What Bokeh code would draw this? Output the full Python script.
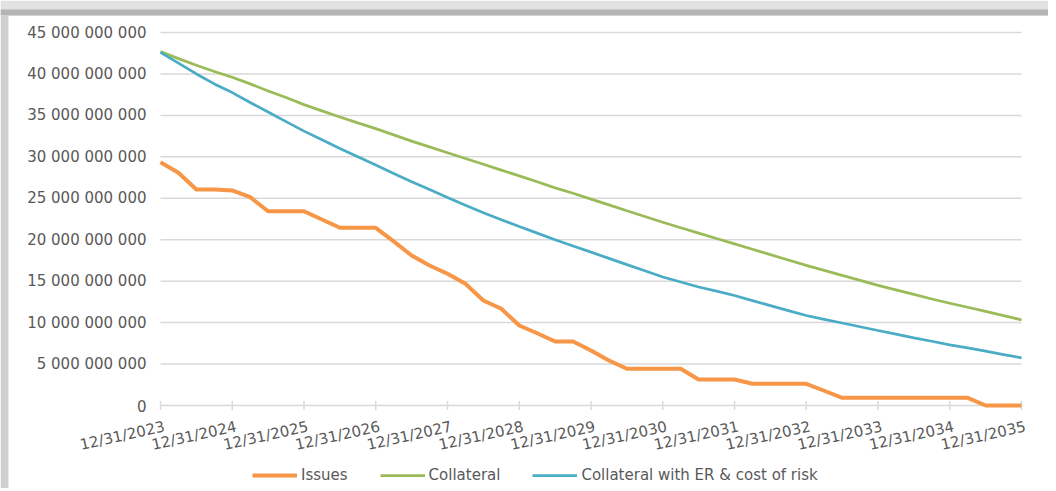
import math
from bokeh.plotting import figure
from bokeh.models import Range1d, Legend, LegendItem, BoxAnnotation
from bokeh.core.properties import value
from bokeh.embed import file_html
from bokeh.resources import INLINE

# Quarter-end observations, 12/31/2023 .. 12/31/2035 (49 quarters), in billions
issues = [29.35, 28.07, 26.06, 26.06, 25.94, 25.13, 23.44, 23.44, 23.44, 22.44,
          21.44, 21.44, 21.44, 19.80, 18.10, 16.89, 15.89, 14.68, 12.67, 11.67,
          9.65, 8.72, 7.72, 7.72, 6.64, 5.43, 4.43, 4.43, 4.43, 4.43,
          3.14, 3.14, 3.14, 2.62, 2.62, 2.62, 2.62, 1.78, 0.93, 0.93,
          0.93, 0.93, 0.93, 0.93, 0.93, 0.93, 0.0, 0.0, 0.0]
collateral = [42.70, 41.85, 41.05, 40.30, 39.60, 38.80, 37.95, 37.15, 36.30,
              35.55, 34.80, 34.10, 33.40, 32.65, 31.90, 31.20, 30.50,
              29.80, 29.10, 28.40, 27.70, 27.00, 26.25, 25.60, 24.90,
              24.20, 23.50, 22.80, 22.10, 21.45, 20.80, 20.15, 19.50,
              18.85, 18.20, 17.55, 16.90, 16.30, 15.70, 15.10, 14.50,
              13.95, 13.40, 12.85, 12.34, 11.85, 11.35, 10.85, 10.34]
collateral_er = [42.60, 41.30, 40.00, 38.80, 37.75, 36.55, 35.40, 34.25, 33.10,
                 32.05, 31.00, 30.00, 29.00, 28.00, 27.00, 26.05, 25.10,
                 24.15, 23.25, 22.40, 21.60, 20.80, 20.00, 19.25, 18.50,
                 17.75, 17.00, 16.25, 15.50, 14.90, 14.30, 13.80, 13.27,
                 12.65, 12.05, 11.45, 10.86, 10.40, 9.95, 9.50, 9.05,
                 8.60, 8.15, 7.75, 7.32, 6.95, 6.55, 6.15, 5.75]
x_tick_labels = ["12/31/2023", "12/31/2024", "12/31/2025", "12/31/2026", "12/31/2027",
                 "12/31/2028", "12/31/2029", "12/31/2030", "12/31/2031", "12/31/2032",
                 "12/31/2033", "12/31/2034", "12/31/2035"]
y_tick_values = [0, 5e9, 10e9, 15e9, 20e9, 25e9, 30e9, 35e9, 40e9, 45e9]
y_tick_labels = ["0", "5 000 000 000", "10 000 000 000", "15 000 000 000",
                 "20 000 000 000", "25 000 000 000", "30 000 000 000",
                 "35 000 000 000", "40 000 000 000", "45 000 000 000"]
series_names = ["Issues", "Collateral", "Collateral with ER & cost of risk"]

xq = list(range(len(issues)))
x_ticks = [i * 4 for i in range(len(x_tick_labels))]
x_first, x_last = xq[0], xq[-1]
y_min, y_max = y_tick_values[0], y_tick_values[-1]

# ---- layout (pixels) ----
W, H = 1048, 488
PX_L, PX_R = 160, 1021      # plot area left / right
PX_B, PX_T = 405, 32        # plot area bottom / top
sxs = (PX_R - PX_L) / (x_last - x_first)
sys_ = (PX_B - PX_T) / (y_max - y_min)


def x_at(px):
    return x_first + (px - PX_L) / sxs


def y_at(px):
    return y_min + (PX_B - px) / sys_


FONT = "DejaVu Sans"
TXT = "#595959"
GRID = "#d9d9d9"

p = figure(width=W, height=H, min_border=0,
           x_axis_location=None, y_axis_location=None,
           output_backend="svg", toolbar_location=None,
           x_range=Range1d(x_at(0), x_at(W)), y_range=Range1d(y_at(H), y_at(0)))
p.outline_line_color = None
p.background_fill_color = "white"
p.border_fill_color = "white"
p.grid.visible = False

# frame shadow (top and left edges of the pasted chart)
p.add_layout(BoxAnnotation(bottom=y_at(15), fill_color="#e2e2e2", fill_alpha=1, line_color=None))
p.add_layout(BoxAnnotation(bottom=y_at(15), top=y_at(9), fill_color="#b4b4b4", fill_alpha=1, line_color=None))
p.add_layout(BoxAnnotation(right=x_at(8), top=y_at(15), fill_color="#cfcfcf", fill_alpha=1, line_color=None))

# horizontal gridlines
p.segment(x0=[x_first] * len(y_tick_values), x1=[x_last] * len(y_tick_values),
          y0=y_tick_values, y1=y_tick_values, line_color=GRID, line_width=1.5)
# category tick marks on the zero line
p.scatter(x=x_ticks, y=[y_min] * len(x_ticks), marker="dash", angle=math.pi / 2,
          size=9, line_color=GRID, line_width=1.5)

r1 = p.line(xq, [v * 1e9 for v in issues], line_color="#f79646", line_width=4, line_join="round")
r2 = p.line(xq, [v * 1e9 for v in collateral], line_color="#9bbb59", line_width=2.75, line_join="round")
r3 = p.line(xq, [v * 1e9 for v in collateral_er], line_color="#4bacc6", line_width=2.75, line_join="round")

# y tick labels
p.text(x=[x_first] * len(y_tick_values), y=y_tick_values, text=y_tick_labels,
       x_offset=-14, text_align="right", text_baseline="middle",
       text_font=value(FONT), text_font_size="15px", text_color=TXT)
# x tick labels (rotated)
p.text(x=x_ticks, y=[y_at(PX_B + 12)] * len(x_ticks), text=x_tick_labels,
       x_offset=2, angle=0.22, text_align="right", text_baseline="top",
       text_font=value(FONT), text_font_size="15px", text_color=TXT)

legend = Legend(items=[LegendItem(label=series_names[0], renderers=[r1]),
                       LegendItem(label=series_names[1], renderers=[r2]),
                       LegendItem(label=series_names[2], renderers=[r3])],
                orientation="horizontal", location=(252, 4),
                glyph_width=45, glyph_height=14, label_standoff=4, spacing=32,
                label_text_font=FONT, label_text_font_size="15px", label_text_color=TXT,
                border_line_color=None, background_fill_alpha=0,
                padding=3, margin=0)
p.add_layout(legend, "center")

open("out.html", "w").write(file_html(p, INLINE))
